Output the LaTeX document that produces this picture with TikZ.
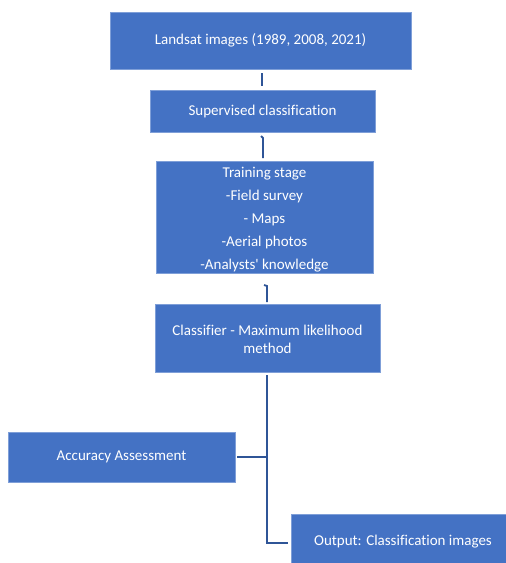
\documentclass[tikz,border=0pt]{standalone}
\usepackage{fontspec}
\newfontfamily\carlito[Ligatures={NoCommon}]{Carlito}
\definecolor{boxblue}{HTML}{4472C4}
\definecolor{boxedge}{HTML}{7F9FD8}
\definecolor{linkblue}{HTML}{2F5597}
\begin{document}
\begin{tikzpicture}[x=1pt,y=-1pt,
  flowbox/.style={rectangle, fill=boxblue, draw=boxedge, line width=0.6pt, text=white,
    font=\carlito\fontsize{15}{18}\selectfont, align=center, inner sep=0pt},
  link/.style={draw=linkblue, line width=1.8pt}]
\useasboundingbox (0,0) rectangle (506,563);
\begin{scope}
\clip (0,0) rectangle (506,563);
\node[flowbox, minimum width=301, minimum height=57] (land) at (260.5,40.5) {Landsat images (1989, 2008, 2021)};
\node[flowbox, minimum width=225, minimum height=42] (sup) at (262.5,111) {Supervised classification};
\node[flowbox, minimum width=217, minimum height=112, font=\carlito\fontsize{15}{23}\selectfont] (train) at (264.5,217) {\parbox{217pt}{\centering\vspace*{6pt}Training stage\\-Field survey\\- Maps\\-Aerial photos\\-Analysts' knowledge}};
\node[flowbox, minimum width=225, minimum height=68] (cls) at (267.5,338) {\parbox{225pt}{\centering\vspace*{3pt}Classifier - Maximum likelihood\\method}};
\node[flowbox, minimum width=227, minimum height=50] (acc) at (121.5,457) {Accuracy Assessment};
\node[flowbox, minimum width=224, minimum height=56] (out) at (403,542) {Output: Classification images};
\end{scope}
\coordinate (j1t) at (262,73);
\coordinate (j1b) at (262,86);
\draw[link] (j1t) -- (j1b);
\coordinate (j2t) at (261,136);
\coordinate (j2b) at (263,158);
\draw[link] (j2t) -- (263,138) -- (j2b);
\coordinate (j3t) at (264,285);
\coordinate (j3b) at (267,302);
\draw[link] (j3t) -- (267,286) -- (j3b);
\coordinate (trunk) at (267,375);
\coordinate (tee) at (267,457);
\coordinate (corner) at (267,543);
\draw[link] (trunk) -- (corner) -- ([xshift=-3pt]out.west |- corner);
\draw[link] ([xshift=2pt]acc.east) -- (tee);
\end{tikzpicture}
\end{document}
